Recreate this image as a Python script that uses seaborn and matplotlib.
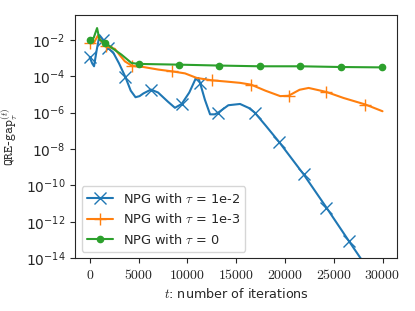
import numpy as np
import pandas as pd
import matplotlib
matplotlib.use("Agg")
import matplotlib.pyplot as plt
import seaborn as sns
from matplotlib.ticker import FuncFormatter, NullLocator

# --- Data (log10 of QRE-gap) ---

t_blue = [0, 250, 440, 700, 1000, 1370, 1880, 2400, 3000, 3660, 4200, 4690,
          5100, 5500, 6270, 7000, 8000, 8730, 9420, 10200, 10800, 11130, 11300,
          11800, 12330, 12800, 13180, 14200, 15400, 16300, 16900, 18000, 19420,
          21920, 24250, 26540, 28000, 30000]
log_gap_blue = [-2.97, -3.3, -3.46, -2.6, -1.75, -2.0, -2.46, -2.7, -3.3, -4.06,
                -4.8, -5.16, -5.1, -4.95, -4.74, -4.9, -5.4, -5.74, -5.53, -4.9,
                -4.2, -4.1, -4.37, -5.3, -6.1, -6.1, -6.0, -5.6, -5.53, -5.75,
                -6.0, -6.7, -7.63, -9.40, -11.22, -13.05, -14.2, -15.8]
marks_blue = [0, 5, 6, 9, 14, 18, 22, 26, 30, 32, 33, 34, 35]

t_orange = [0, 400, 800, 1200, 1640, 2570, 3000, 3600, 4350, 5500, 7020, 8450,
            9760, 10960, 12500, 14000, 15400, 16540, 18000, 19520, 20370,
            21500, 22430, 24250, 26000, 28250, 30000]
log_gap_orange = [-2.18, -2.2, -1.8, -2.09, -2.37, -2.5, -2.8, -3.19, -3.44,
                  -3.5, -3.64, -3.74, -3.85, -4.1, -4.23, -4.3, -4.37, -4.47,
                  -4.8, -5.1, -5.08, -4.75, -4.65, -4.87, -5.2, -5.56, -5.93]
marks_orange = [0, 4, 8, 11, 14, 17, 20, 23, 25]

t_green = [0, 400, 750, 1000, 1610, 2400, 3250, 4280, 5030, 9140, 13290,
           17400, 21580, 25750, 29900]
log_gap_green = [-2.0, -1.9, -1.36, -2.0, -2.18, -2.5, -2.82, -3.28, -3.33,
                 -3.37, -3.42, -3.46, -3.46, -3.50, -3.52]
marks_green = [0, 4, 8, 9, 10, 11, 12, 13, 14]

labels = [r"NPG with $\tau$ = 1e-2", r"NPG with $\tau$ = 1e-3", r"NPG with $\tau$ = 0"]
y_ticks = [1e-14, 1e-12, 1e-10, 1e-8, 1e-6, 1e-4, 1e-2]

# --- Plot ---

sns.set_style("ticks")
plt.rcParams["mathtext.fontset"] = "cm"
plt.rcParams["font.family"] = ["DejaVu Sans"]

colors = sns.color_palette("tab10")
fig, ax = plt.subplots(figsize=(4.15, 3.11), dpi=100)
fig.subplots_adjust(left=0.181, right=0.957, top=0.952, bottom=0.170)

series = [
    (t_blue, log_gap_blue, marks_blue, "x", 8, labels[0]),
    (t_orange, log_gap_orange, marks_orange, "+", 9, labels[1]),
    (t_green, log_gap_green, marks_green, "o", 4.5, labels[2]),
]
for i, (t, lg, marks, mk, ms, lab) in enumerate(series):
    df = pd.DataFrame({"t": t, "gap": 10.0 ** np.array(lg)})
    sns.lineplot(data=df, x="t", y="gap", ax=ax, color=colors[i], lw=1.5,
                 marker=mk, markersize=ms, markevery=marks,
                 markeredgecolor=colors[i], markerfacecolor=colors[i],
                 markeredgewidth=1.0, sort=False, label=lab)

ax.set_yscale("log")
ax.set_ylim(1e-14, 2.3e-1)
ax.set_yticks(y_ticks)
ax.yaxis.set_minor_locator(NullLocator())
ax.set_xticks([0, 5000, 10000, 15000, 20000, 25000, 30000])
ax.xaxis.set_major_formatter(FuncFormatter(lambda v, p: f"${int(v)}$"))
ax.tick_params(labelsize=10)

ax.set_xlabel(r"$t$: number of iterations", fontsize=9.2)
ax.set_ylabel(r"$\mathtt{QRE}$-$\mathtt{gap}_{\tau}^{(t)}$", fontsize=9.5)
ax.legend(loc="lower left", fontsize=9.3)

plt.savefig("out.png", dpi=100)
